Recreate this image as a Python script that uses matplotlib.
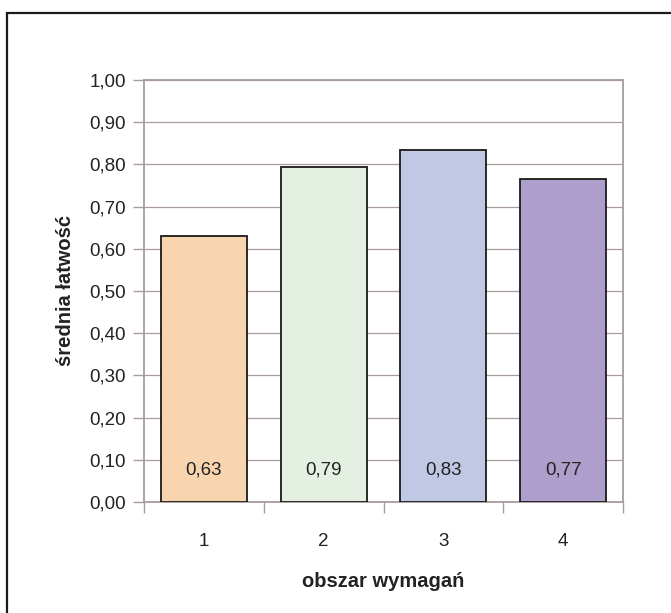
import matplotlib.pyplot as plt
from matplotlib.patches import Rectangle
from matplotlib.ticker import FixedLocator

# dane
obszary = ["1", "2", "3", "4"]
latwosc = [0.63, 0.795, 0.834, 0.766]
etykiety = ["0,63", "0,79", "0,83", "0,77"]
kolory = ["#F8D5AF", "#E3F0E2", "#C1C8E4", "#AE9ECB"]
yticks = [0.0, 0.1, 0.2, 0.3, 0.4, 0.5, 0.6, 0.7, 0.8, 0.9, 1.0]

plt.rcParams["font.family"] = ["Liberation Sans", "DejaVu Sans"]
szary = "#A89C9C"
tekst = "#222222"

fig = plt.figure(figsize=(6.71, 6.13), dpi=100)
ax = fig.add_axes([144/671, 1 - 502/613, (623-144)/671, (502-80)/613])

# ramka wokol wykresu
fig.patches.append(Rectangle((7/671, -0.1), 1.2, 1 - 13/613 + 0.1,
                             transform=fig.transFigure, fill=False,
                             edgecolor="#1a1a1a", linewidth=1.6))

x = list(range(1, len(obszary) + 1))
ax.set_axisbelow(True)
ax.yaxis.grid(True, color=szary, linewidth=0.9)
ax.bar(x, latwosc, width=0.72, color=kolory, edgecolor="#1a1a1a", linewidth=1.3, zorder=3)

for xi, lab in zip(x, etykiety):
    ax.text(xi, 0.075, lab, ha="center", va="center", fontsize=13.5, color=tekst, zorder=4)

ax.set_xlim(0.5, 4.5)
ax.set_ylim(0, 1.0)
ax.set_yticks(yticks)
ax.set_yticklabels([f"{v:.2f}".replace(".", ",") for v in yticks])
ax.set_xticks(x)
ax.set_xticklabels(obszary)
ax.xaxis.set_minor_locator(FixedLocator([0.5, 1.5, 2.5, 3.5, 4.5]))
ax.tick_params(axis="x", which="major", length=0, pad=22, labelsize=13.5, labelcolor=tekst)
ax.tick_params(axis="x", which="minor", length=8, color=szary, width=1)
ax.tick_params(axis="y", length=8, color=szary, width=1, pad=5, labelsize=13.5, labelcolor=tekst)

for s in ax.spines.values():
    s.set_color(szary)
    s.set_linewidth(1.3)

ax.set_ylabel("średnia łatwość", fontsize=14.5, fontweight="bold", labelpad=10, color=tekst)
ax.set_xlabel("obszar wymagań", fontsize=14.5, fontweight="bold", labelpad=16, color=tekst)

fig.savefig("out.png", dpi=100)
